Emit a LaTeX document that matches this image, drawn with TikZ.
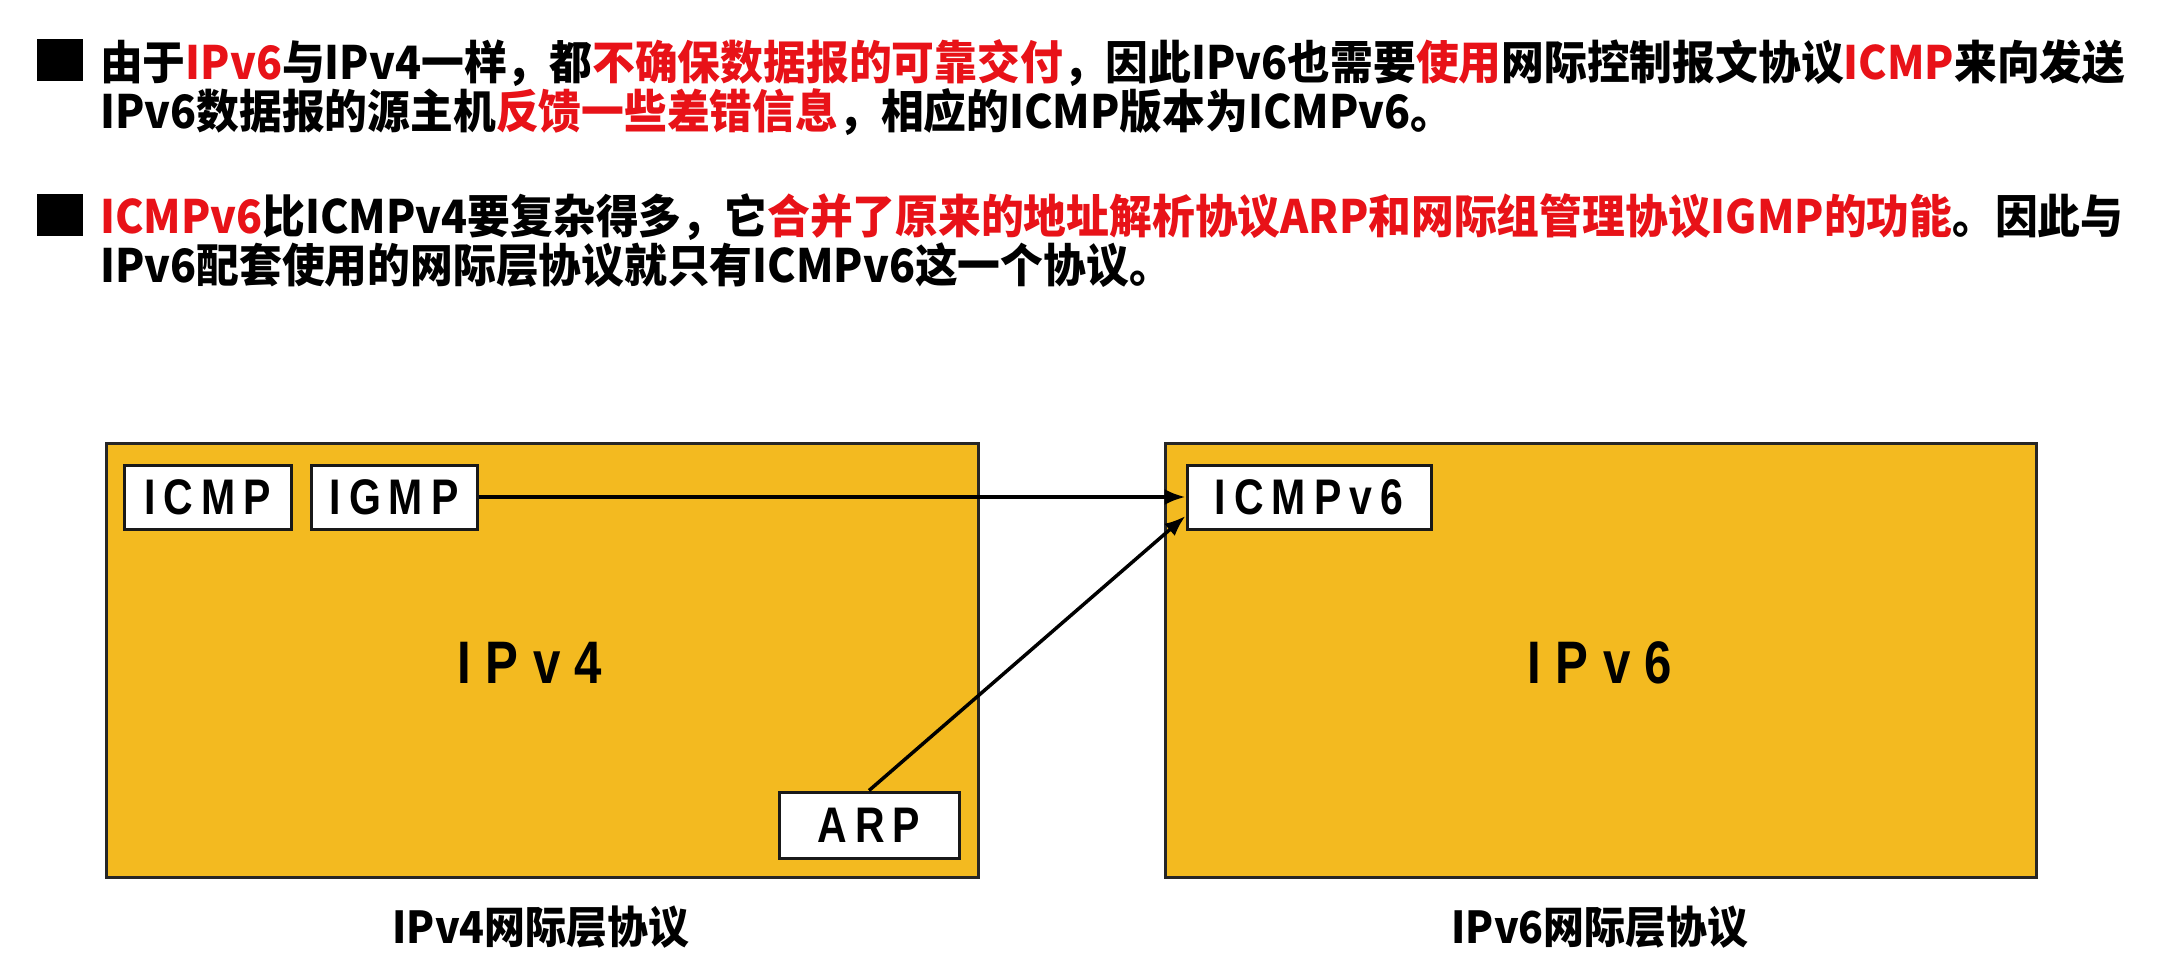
\documentclass[tikz,border=0pt]{standalone}
\usepackage{fontspec}
\usetikzlibrary{arrows.meta}
\newfontfamily\cjk[FakeStretch=0.93]{Noto Sans CJK SC}
\newfontfamily\lab[FakeStretch=0.82]{Liberation Sans}
\definecolor{layer}{RGB}{243,186,32}
\definecolor{hl}{RGB}{232,18,24}
\newcommand{\hi}[1]{\textcolor{hl}{#1}}
\tikzset{
  x=1pt, y=-1pt,
  para/.style={anchor=base west, inner sep=0pt, font=\cjk\bfseries\fontsize{46}{50}\selectfont},
  bullet/.style={fill=black, draw=none},
  layerbox/.style={fill=layer, draw=black!85, line width=3pt},
  proto/.style={draw=black!90, fill=white, line width=3pt, inner sep=0pt,
    minimum height=64pt, font=\lab\bfseries\fontsize{50}{54}\selectfont\addfontfeature{LetterSpace=16}},
  biglabel/.style={inner sep=0pt, font=\lab\bfseries\fontsize{60}{64}\selectfont\addfontfeature{LetterSpace=24}},
  caption/.style={anchor=base, inner sep=0pt, font=\cjk\bfseries\fontsize{44}{48}\selectfont},
  link/.style={line width=3.5pt, -{Latex[length=21pt,width=16pt]}}
}
\begin{document}
\begin{tikzpicture}
\useasboundingbox[fill=white] (0,0) rectangle (2178,968);

% bullet points
\fill[bullet] (37,39) rectangle (83,81);
\fill[bullet] (37,194) rectangle (83,236);
\node[para] (l1) at (100,80) {由于\hi{IPv6}与IPv4一样，都\hi{不确保数据报的可靠交付}，因此IPv6也需要\hi{使用}网际控制报文协议\hi{ICMP}来向发送};
\node[para] (l2) at (100,129) {IPv6数据报的源主机\hi{反馈一些差错信息}，相应的ICMP版本为ICMPv6。};
\node[para] (l3) at (100,234) {\hi{ICMPv6}比ICMPv4要复杂得多，它\hi{合并了原来的地址解析协议ARP和网际组管理协议IGMP的功能}。因此与};
\node[para] (l4) at (100,283) {IPv6配套使用的网际层协议就只有ICMPv6这一个协议。};

% the two network layers
\draw[layerbox] (106,443) rectangle (978,877);
\draw[layerbox] (1165,443) rectangle (2036,877);
\node[biglabel] (v4) at (530,663) {IPv4};
\node[biglabel] (v6) at (1600,663) {IPv6};

% protocols inside each layer
\node[proto, minimum width=167pt] (icmp) at (207.5,497) {ICMP};
\node[proto, minimum width=166pt] (igmp) at (394,497) {IGMP};
\node[proto, minimum width=180pt, minimum height=66pt] (arp) at (869,825) {ARP};
\node[proto, minimum width=244pt] (icmpv6) at (1309,497) {ICMPv6};

% merged into ICMPv6
\coordinate (v6in) at ([yshift=-19pt]icmpv6.west);
\draw[link] (igmp.east) -- (icmpv6.west);
\draw[link] (arp.north) -- (v6in);

% captions
\node[caption] (c4) at (541,943) {IPv4网际层协议};
\node[caption] (c6) at (1600,943) {IPv6网际层协议};
\end{tikzpicture}
\end{document}
